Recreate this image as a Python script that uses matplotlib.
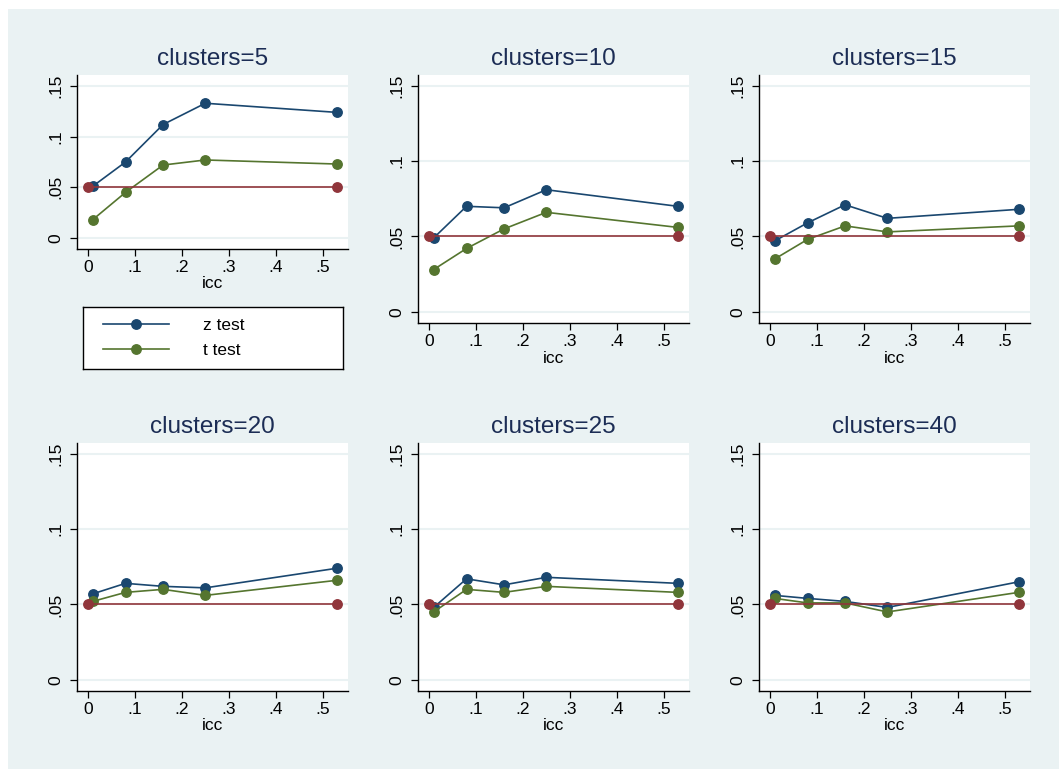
import matplotlib
matplotlib.use('Agg')
import matplotlib.pyplot as plt
from matplotlib.lines import Line2D
from matplotlib.patches import Rectangle

plt.rcParams['font.family'] = ['Liberation Sans', 'DejaVu Sans']

# Data
clusters = [5, 10, 15, 20, 25, 40]
icc = [0.01, 0.08, 0.16, 0.25, 0.53]
ref_icc = [0.0, 0.53]
ref_rate = [0.05, 0.05]

z_test = {
    5: [0.051, 0.075, 0.112, 0.133, 0.124],
    10: [0.049, 0.070, 0.069, 0.081, 0.070],
    15: [0.047, 0.059, 0.071, 0.062, 0.068],
    20: [0.057, 0.064, 0.062, 0.061, 0.074],
    25: [0.048, 0.067, 0.063, 0.068, 0.064],
    40: [0.056, 0.054, 0.052, 0.048, 0.065],
}
t_test = {
    5: [0.018, 0.045, 0.072, 0.077, 0.073],
    10: [0.028, 0.042, 0.055, 0.066, 0.056],
    15: [0.035, 0.048, 0.057, 0.053, 0.057],
    20: [0.052, 0.058, 0.060, 0.056, 0.066],
    25: [0.045, 0.060, 0.058, 0.062, 0.058],
    40: [0.054, 0.051, 0.051, 0.045, 0.058],
}

yticks = [0, 0.05, 0.1, 0.15]
ytick_labels = ['0', '.05', '.1', '.15']
xticks = [0, 0.1, 0.2, 0.3, 0.4, 0.5]
xtick_labels = ['0', '.1', '.2', '.3', '.4', '.5']

navy = '#1a476f'
green = '#55752f'
maroon = '#90353b'
bg = '#eaf2f3'
title_col = '#1c2d55'

W, H = 1059, 769
fig = plt.figure(figsize=(W / 100, H / 100), dpi=100)
fig.patch.set_facecolor('white')
fig.patches.append(Rectangle((8 / W, 0), 1 - 8 / W, 1 - 9 / H, transform=fig.transFigure,
                             facecolor=bg, edgecolor='none', zorder=-10))

lefts = [77, 418, 759]
width = 271


def pix_axes(l, t, w, h):
    return fig.add_axes([l / W, 1 - (t + h) / H, w / W, h / H])


boxes = [
    (lefts[0], 75, 174), (lefts[1], 75, 248), (lefts[2], 75, 248),
    (lefts[0], 443, 248), (lefts[1], 443, 248), (lefts[2], 443, 248),
]

mk = dict(marker='o', markersize=6.8, linewidth=1.2)
fs = 12.5

for i, c in enumerate(clusters):
    l, t, h = boxes[i]
    ax = pix_axes(l, t, width, h)
    ax.set_facecolor('white')
    for y in yticks:
        ax.axhline(y, color=bg, linewidth=1.5, zorder=0)
    ax.plot(icc, z_test[c], color=navy, **mk)
    ax.plot(icc, t_test[c], color=green, **mk)
    ax.plot(ref_icc, ref_rate, color=maroon, **mk)
    if i == 0:
        ax.set_ylim(-0.0109, 0.1609)
    else:
        ax.set_ylim(-0.0075, 0.1572)
    ax.set_xlim(-0.0234, 0.554)
    ax.set_yticks(yticks)
    ax.set_yticklabels(ytick_labels, rotation=90, va='center')
    ax.set_xticks(xticks)
    ax.set_xticklabels(xtick_labels)
    ax.tick_params(axis='both', direction='out', length=5, width=0.9, labelsize=fs, colors='black')
    ax.tick_params(axis='y', pad=5)
    ax.tick_params(axis='x', pad=3)
    for s in ['top', 'right']:
        ax.spines[s].set_visible(False)
    for s in ['left', 'bottom']:
        ax.spines[s].set_linewidth(1.0)
    ax.set_xlabel('icc', fontsize=fs, labelpad=1)
    ax.set_title('clusters=%d' % c, fontsize=17.5, color=title_col, pad=7)

# legend box below the first panel
lax = pix_axes(83, 307, 260, 62)
lax.set_facecolor('white')
lax.set_xticks([])
lax.set_yticks([])
for s in lax.spines.values():
    s.set_linewidth(1.0)
    s.set_color('black')
handles = [Line2D([], [], color=navy, **mk), Line2D([], [], color=green, **mk)]
lax.legend(handles, ['z test', 't test'], loc='center left', bbox_to_anchor=(20 / 260, 0.5),
           frameon=False, fontsize=fs, handlelength=3.8, handletextpad=1.95,
           labelspacing=0.55, borderaxespad=0, borderpad=0)

fig.savefig('out.png', dpi=100)
